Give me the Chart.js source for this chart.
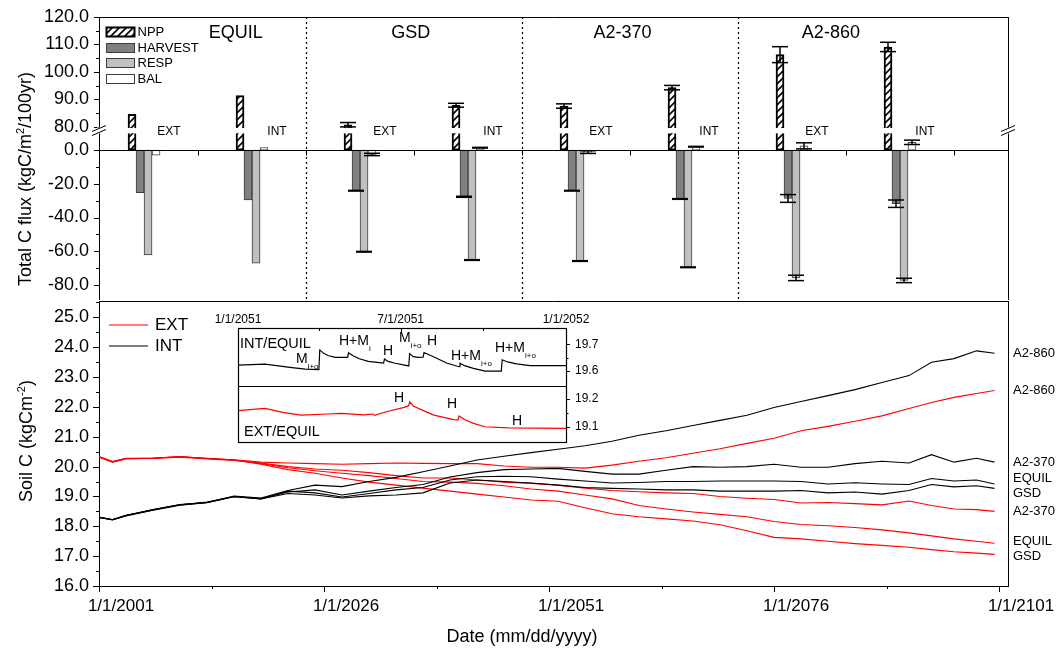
<!DOCTYPE html>
<html>
<head>
<meta charset="utf-8">
<title>Total C flux and soil C</title>
<script src="https://cdn.jsdelivr.net/npm/chart.js@4.4.1/dist/chart.umd.min.js"></script>
<style>
  html, body { margin: 0; background: #fff; }
  #page { position: relative; width: 1058px; height: 648px; overflow: hidden;
          font-family: "Liberation Sans", Arial, sans-serif; color: #000; }
  canvas { position: absolute; }
  #flux  { left: 0; top: 0; }
  #soil  { left: 0; top: 300px; }
  #inset { left: 200px; top: 305px; }
  .t { position: absolute; white-space: nowrap; line-height: 1; }
  .rot { transform: translate(-50%, -50%) rotate(-90deg); font-size: 18px; }
  .ann { font-size: 14px; }
  .ann sub { font-size: 8px; vertical-align: -6px; }
</style>
</head>
<body>
<div id="page">
  <canvas id="flux" width="1058" height="300"></canvas>
  <canvas id="soil" width="1058" height="348"></canvas>
  <canvas id="inset" width="410" height="145"></canvas>

  <div class="t rot" style="left:24px; top:179px">Total C flux (kgC/m<sup style="font-size:11px">2</sup>/100yr)</div>
  <div class="t rot" style="left:25px; top:441px">Soil C (kgCm<sup style="font-size:11px">-2</sup>)</div>
  <div class="t" style="left:522px; top:636px; transform:translate(-50%,-50%); font-size:18px">Date (mm/dd/yyyy)</div>

  <!-- inset annotations -->
  <div class="t ann" style="left:240px; top:336px; font-size:14.5px">INT/EQUIL</div>
  <div class="t ann" style="left:296px; top:351px">M<sub>i+o</sub></div>
  <div class="t ann" style="left:339px; top:333px">H+M<sub>i</sub></div>
  <div class="t ann" style="left:383px; top:343px">H</div>
  <div class="t ann" style="left:399px; top:330px">M<sub>i+o</sub></div>
  <div class="t ann" style="left:427px; top:333px">H</div>
  <div class="t ann" style="left:451px; top:348px">H+M<sub>i+o</sub></div>
  <div class="t ann" style="left:495px; top:340px">H+M<sub>i+o</sub></div>
  <div class="t ann" style="left:394px; top:390px">H</div>
  <div class="t ann" style="left:447px; top:396px">H</div>
  <div class="t ann" style="left:512px; top:413px">H</div>
  <div class="t ann" style="left:244px; top:424px; font-size:14.5px">EXT/EQUIL</div>
</div>

<script>
// ── data: C flux bars (kgC/m2/100yr) ────────────────────────────────
const SCENARIOS = ['EQUIL', 'GSD', 'A2-370', 'A2-860'];
const GROUP_X   = [0.5, 1.5, 2.5, 3.5, 4.5, 5.5, 6.5, 7.5];
const GROUP_MGMT = ['EXT', 'INT', 'EXT', 'INT', 'EXT', 'INT', 'EXT', 'INT'];

const NPP         = [84.6, 91.4, 80.8, 87.9, 87.6, 94.3, 106.3, 109.1];
const NPP_ERR     = [null, null, 0.8, 0.7, 0.8, 0.8, 2.9, 1.7];
const HARVEST     = [-25.3, -29.6, -24.1, -27.7, -24.1, -29.0, -28.7, -31.8];
const HARVEST_ERR = [null, null, 0.2, 0.3, 0.2, 0.2, 2.3, 2.2];
const RESP        = [-62.2, -67.1, -60.3, -65.2, -65.8, -69.5, -75.8, -77.3];
const RESP_ERR    = [null, null, 0.2, 0.2, 0.2, 0.2, 1.6, 1.3];
const BAL         = [-3.0, 1.4, -2.6, 1.4, -1.2, 2.0, 2.5, 4.6];
const BAL_ERR     = [null, null, 0.7, 0.2, 0.8, 0.2, 1.8, 1.3];

const FLUX_HIGH_TICKS = [80, 90, 100, 110, 120];
const FLUX_LOW_TICKS  = [0, -20, -40, -60, -80];

// ── data: soil C (kgC/m2) ───────────────────────────────────────────
const YEARS = [2001, 2002.5, 2004, 2007, 2010, 2013, 2016, 2019, 2022, 2025, 2028, 2031,
               2034, 2037, 2040, 2043, 2046, 2049, 2052, 2055, 2058, 2061, 2064, 2067,
               2070, 2073, 2076, 2079, 2082, 2085, 2088, 2091, 2093.5, 2096, 2098.5, 2100.5];

const INT_A2_860 = [18.30, 18.22, 18.36, 18.56, 18.73, 18.80, 19.01, 18.95, 19.20, 19.38, 19.33, 19.50,
                    19.64, 19.83, 20.02, 20.22, 20.35, 20.47, 20.58, 20.70, 20.85, 21.05, 21.20, 21.38,
                    21.55, 21.72, 21.98, 22.18, 22.38, 22.58, 22.82, 23.05, 23.50, 23.62, 23.88, 23.80];
const INT_A2_370 = [18.30, 18.23, 18.37, 18.55, 18.72, 18.81, 19.00, 18.93, 19.15, 19.22, 19.05, 19.18,
                    19.30, 19.40, 19.65, 19.80, 19.90, 19.92, 19.94, 19.84, 19.75, 19.75, 19.88, 20.00,
                    19.98, 20.00, 20.08, 19.98, 19.98, 20.10, 20.18, 20.12, 20.40, 20.15, 20.28, 20.15];
const INT_EQUIL  = [18.30, 18.21, 18.35, 18.54, 18.71, 18.79, 18.99, 18.92, 19.18, 19.12, 18.98, 19.10,
                    19.22, 19.30, 19.55, 19.66, 19.68, 19.66, 19.58, 19.52, 19.45, 19.47, 19.50, 19.50,
                    19.52, 19.52, 19.52, 19.50, 19.42, 19.46, 19.42, 19.40, 19.60, 19.52, 19.55, 19.42];
const INT_GSD    = [18.31, 18.22, 18.36, 18.55, 18.72, 18.80, 19.00, 18.92, 19.10, 19.05, 18.95, 19.02,
                    19.05, 19.12, 19.45, 19.55, 19.50, 19.45, 19.38, 19.30, 19.27, 19.25, 19.22, 19.22,
                    19.18, 19.18, 19.18, 19.20, 19.12, 19.15, 19.08, 19.20, 19.40, 19.32, 19.36, 19.27];
const EXT_A2_860 = [20.33, 20.16, 20.27, 20.28, 20.34, 20.27, 20.23, 20.15, 20.12, 20.10, 20.08, 20.10,
                    20.12, 20.11, 20.10, 20.10, 20.02, 19.98, 19.98, 19.95, 20.05, 20.18, 20.30, 20.45,
                    20.60, 20.78, 20.95, 21.20, 21.35, 21.52, 21.70, 21.95, 22.15, 22.32, 22.45, 22.55];
const EXT_A2_370 = [20.33, 20.17, 20.28, 20.27, 20.32, 20.26, 20.21, 20.12, 20.00, 19.92, 19.88, 19.80,
                    19.70, 19.62, 19.62, 19.55, 19.48, 19.44, 19.38, 19.28, 19.20, 19.16, 19.12, 19.10,
                    19.00, 18.94, 18.90, 18.78, 18.80, 18.76, 18.72, 18.85, 18.70, 18.58, 18.56, 18.50];
const EXT_EQUIL  = [20.32, 20.15, 20.26, 20.28, 20.33, 20.28, 20.22, 20.10, 19.96, 19.86, 19.78, 19.70,
                    19.60, 19.50, 19.48, 19.44, 19.36, 19.25, 19.18, 19.05, 18.92, 18.70, 18.58, 18.48,
                    18.40, 18.32, 18.16, 18.06, 18.02, 17.96, 17.88, 17.78, 17.68, 17.58, 17.50, 17.43];
const EXT_GSD    = [20.34, 20.16, 20.27, 20.29, 20.33, 20.27, 20.22, 20.08, 19.90, 19.78, 19.62, 19.48,
                    19.38, 19.28, 19.18, 19.08, 18.98, 18.88, 18.84, 18.62, 18.42, 18.32, 18.25, 18.18,
                    18.05, 17.85, 17.63, 17.58, 17.50, 17.42, 17.36, 17.30, 17.22, 17.15, 17.10, 17.06];

const SOIL_TICKS = [16, 17, 18, 19, 20, 21, 22, 23, 24, 25];
const DATE_TICKS = [2001, 2026, 2051, 2076, 2101];

// ── data: inset, year 2051 (day of year) ────────────────────────────
const INSET_INT_DAY = [0, 30, 60, 75, 90, 91, 95, 100, 108, 122, 123, 128, 135, 145, 162, 163, 167, 175, 190,
                       191, 195, 200, 206, 207, 212, 220, 232, 246, 247, 252, 262, 275, 293, 294, 300, 310, 325, 365];
const INSET_INT     = [19.622, 19.626, 19.613, 19.607, 19.605, 19.679, 19.667, 19.658, 19.651, 19.651, 19.668,
                       19.657, 19.646, 19.636, 19.630, 19.645, 19.636, 19.629, 19.619, 19.665, 19.654, 19.651,
                       19.652, 19.669, 19.662, 19.650, 19.630, 19.616, 19.629, 19.620, 19.610, 19.600, 19.600,
                       19.642, 19.634, 19.627, 19.620, 19.620];
const INSET_EXT_DAY = [0, 30, 50, 70, 100, 115, 140, 150, 152, 165, 185, 190, 191, 195, 205, 218, 240, 245,
                       246, 252, 262, 275, 300, 365];
const INSET_EXT     = [19.158, 19.166, 19.152, 19.142, 19.146, 19.148, 19.143, 19.146, 19.141, 19.154, 19.170,
                       19.176, 19.190, 19.175, 19.160, 19.142, 19.126, 19.125, 19.139, 19.126, 19.112, 19.100,
                       19.096, 19.094];
const INSET_DAY_TICKS  = [0, 181, 365];
const INSET_DAY_LABELS = ['1/1/2051', '7/1/2051', '1/1/2052'];
const INSET_INT_TICKS  = [19.6, 19.7];
const INSET_EXT_TICKS  = [19.1, 19.2];

// ── shared bits ─────────────────────────────────────────────────────
const FONT = '"Liberation Sans", Arial, sans-serif';
Chart.defaults.font.family = FONT;
Chart.defaults.color = '#000';
Chart.defaults.animation = false;

const RED = '#ff0000';
const HARVEST_COLOR = '#808080';
const RESP_COLOR = '#c0c0c0';
const EDGE = '#3c3c3c';

const crisp = v => Math.round(v) + 0.5;
const mid = arr => arr.slice(1).map((v, i) => (v + arr[i]) / 2);

function seg(ctx, x1, y1, x2, y2) {
  ctx.beginPath();
  ctx.moveTo(x1, y1);
  ctx.lineTo(x2, y2);
  ctx.stroke();
}

// tick marks on one side of a scale
function marks(ctx, scale, values, len, side) {
  values.forEach(v => {
    const p = crisp(scale.getPixelForValue(v));
    if (side === 'left')   seg(ctx, scale.right - len, p, scale.right, p);
    if (side === 'right')  seg(ctx, scale.left, p, scale.left + len, p);
    if (side === 'bottom') seg(ctx, p, scale.top, p, scale.top + len);
    if (side === 'down')   seg(ctx, p, scale.bottom, p, scale.bottom + len);
  });
}

function fixedTicks(list) {
  return s => { s.ticks = list.map(v => ({ value: v })); };
}

function fitWidth(w) {
  return s => { s.width = w; s.paddingTop = 0; s.paddingBottom = 0; };
}

function fitHeight(h) {
  return s => { s.height = h; s.paddingLeft = 0; s.paddingRight = 0; };
}

function makeHatch(ctx) {
  const c = document.createElement('canvas');
  c.width = 7; c.height = 7;
  const g = c.getContext('2d');
  g.fillStyle = '#fff';
  g.fillRect(0, 0, 7, 7);
  g.strokeStyle = '#000';
  g.lineWidth = 1.6;
  g.beginPath();
  g.moveTo(-1, 8); g.lineTo(8, -1);
  g.moveTo(-1, 1); g.lineTo(1, -1);
  g.moveTo(6, 8); g.lineTo(8, 6);
  g.stroke();
  return ctx.createPattern(c, 'repeat');
}

// ── top panel: flux bars with a broken axis ─────────────────────────
const fluxCtx = document.getElementById('flux').getContext('2d');
const NPP_FILL = makeHatch(fluxCtx);
const BREAK_HIGH = 79.6;   // bottom of the upper NPP piece
const BREAK_LOW  = 10;     // top of the lower NPP piece

const fluxDecor = {
  id: 'fluxDecor',
  afterDatasetsDraw(chart) {
    const { ctx, chartArea: a, scales: { x, yLow, yHigh } } = chart;
    ctx.save();
    ctx.strokeStyle = '#000';
    ctx.lineWidth = 1;

    // zero line with ticks
    const y0 = crisp(yLow.getPixelForValue(0));
    seg(ctx, a.left, y0, a.right, y0);
    for (let k = 1; k <= 8; k++) {
      const px = crisp(x.getPixelForValue(k));
      seg(ctx, px, y0, px, y0 + 5);
    }

    // scenario dividers
    ctx.setLineDash([2, 3]);
    ctx.lineWidth = 1.2;
    for (let k = 1; k < SCENARIOS.length; k++) {
      const px = crisp(x.getPixelForValue((GROUP_X[2 * k - 1] + GROUP_X[2 * k]) / 2));
      seg(ctx, px, a.top, px, a.bottom);
    }
    ctx.setLineDash([]);
    ctx.lineWidth = 1;

    // frame
    seg(ctx, a.left, crisp(a.top), a.right, crisp(a.top));
    seg(ctx, crisp(a.right), a.top, crisp(a.right), a.bottom);

    // axis ticks
    marks(ctx, yHigh, FLUX_HIGH_TICKS, 5, 'left');
    marks(ctx, yHigh, mid(FLUX_HIGH_TICKS), 3, 'left');
    marks(ctx, yLow, FLUX_LOW_TICKS, 5, 'left');
    marks(ctx, yLow, mid(FLUX_LOW_TICKS), 3, 'left');

    // axis break marks
    const yb = yHigh.bottom;
    [a.left, a.right].forEach(bx => {
      ctx.fillStyle = '#fff';
      ctx.fillRect(bx - 2, yb - 3, 4, 6);
      seg(ctx, bx - 7, yb + 1, bx + 7, yb - 5);
      seg(ctx, bx - 7, yb + 5, bx + 7, yb - 1);
    });

    // error bars
    ctx.lineWidth = 1.5;
    chart.data.datasets.forEach((ds, i) => {
      if (!ds.errors) return;
      const meta = chart.getDatasetMeta(i);
      const scale = chart.scales[ds.yAxisID];
      meta.data.forEach((bar, j) => {
        const e = ds.errors[j];
        if (e == null) return;
        const raw = ds.data[j].y;
        const v = Array.isArray(raw) ? raw[1] : raw;
        const yA = scale.getPixelForValue(v + e);
        const yB = scale.getPixelForValue(v - e);
        seg(ctx, bar.x, yA, bar.x, yB);
        seg(ctx, bar.x - 8, yA, bar.x + 8, yA);
        seg(ctx, bar.x - 8, yB, bar.x + 8, yB);
      });
    });

    // scenario titles and EXT / INT tags
    ctx.fillStyle = '#000';
    ctx.textAlign = 'center';
    ctx.textBaseline = 'middle';
    ctx.font = '18px ' + FONT;
    const TITLE_AT = [1.35, 2.97, 4.93, 6.86];
    SCENARIOS.forEach((s, k) => ctx.fillText(s, x.getPixelForValue(TITLE_AT[k]), a.top + 16));
    ctx.font = '12px ' + FONT;
    GROUP_MGMT.forEach((m, i) => ctx.fillText(m, x.getPixelForValue(GROUP_X[i]) + 25, y0 - 19));

    // legend
    const items = [
      { text: 'NPP',     fill: NPP_FILL,      stroke: '#000', lw: 2 },
      { text: 'HARVEST', fill: HARVEST_COLOR, stroke: EDGE,   lw: 1 },
      { text: 'RESP',    fill: RESP_COLOR,    stroke: EDGE,   lw: 1 },
      { text: 'BAL',     fill: '#fff',        stroke: EDGE,   lw: 1 }
    ];
    ctx.textAlign = 'left';
    ctx.font = '13px ' + FONT;
    items.forEach((it, k) => {
      const bx = a.left + 7.5, by = Math.round(a.top + 10 + k * 15.7) + 0.5;
      ctx.fillStyle = it.fill;
      ctx.fillRect(bx, by, 28, 9);
      ctx.strokeStyle = it.stroke;
      ctx.lineWidth = it.lw;
      ctx.strokeRect(bx, by, 28, 9);
      ctx.fillStyle = '#000';
      ctx.fillText(it.text, bx + 31, by + 5);
    });
    ctx.restore();
  }
};

const barPts = vals => GROUP_X.map((x, i) => ({ x, y: vals[i] }));

const fluxAxis = (stackWeight, min, max, ticks) => ({
  type: 'linear', position: 'left', stack: 'flux', stackWeight, min, max,
  afterBuildTicks: fixedTicks(ticks), afterFit: fitWidth(99),
  ticks: { font: { size: 18 }, padding: 10, autoSkip: false, callback: v => v.toFixed(1) },
  grid: { display: false, drawTicks: false },
  border: { color: '#000', width: 1 }
});

new Chart(fluxCtx, {
  type: 'bar',
  data: {
    datasets: [
      { label: 'NPP', data: GROUP_X.map((x, i) => ({ x, y: [BREAK_HIGH, NPP[i]] })),
        yAxisID: 'yHigh', stack: 'npp', backgroundColor: NPP_FILL, borderColor: '#000',
        borderWidth: 2, borderSkipped: 'bottom', errors: NPP_ERR },
      { label: 'NPP (below break)', data: GROUP_X.map(x => ({ x, y: [0, BREAK_LOW] })),
        yAxisID: 'yLow', stack: 'npp', backgroundColor: NPP_FILL, borderColor: '#000',
        borderWidth: 2, borderSkipped: 'top' },
      { label: 'HARVEST', data: barPts(HARVEST), yAxisID: 'yLow', stack: 'harvest',
        backgroundColor: HARVEST_COLOR, borderColor: EDGE, borderWidth: 1, borderSkipped: false,
        errors: HARVEST_ERR },
      { label: 'RESP', data: barPts(RESP), yAxisID: 'yLow', stack: 'resp',
        backgroundColor: RESP_COLOR, borderColor: EDGE, borderWidth: 1, borderSkipped: false,
        errors: RESP_ERR },
      { label: 'BAL', data: barPts(BAL), yAxisID: 'yLow', stack: 'bal',
        backgroundColor: '#fff', borderColor: EDGE, borderWidth: 1, borderSkipped: false,
        errors: BAL_ERR }
    ]
  },
  options: {
    responsive: false,
    events: [],
    barThickness: 8,
    layout: { padding: { top: 17, right: 50, bottom: 0, left: 0 } },
    plugins: { legend: { display: false }, tooltip: { enabled: false } },
    scales: {
      x: { type: 'linear', min: 0.083, max: 8.5, offset: false, display: false,
           afterBuildTicks: fixedTicks([1, 2, 3, 4, 5, 6, 7, 8]) },
      yLow: fluxAxis(169.5, -88.9, 11.6, FLUX_LOW_TICKS),
      yHigh: fluxAxis(113.5, 78.7, 120, FLUX_HIGH_TICKS)
    }
  },
  plugins: [fluxDecor]
});

// ── bottom panel: soil C time series ────────────────────────────────
const SERIES = [
  { name: 'A2-860', mgmt: 'INT', values: INT_A2_860 },
  { name: 'A2-860', mgmt: 'EXT', values: EXT_A2_860 },
  { name: 'A2-370', mgmt: 'INT', values: INT_A2_370 },
  { name: 'EQUIL',  mgmt: 'INT', values: INT_EQUIL },
  { name: 'GSD',    mgmt: 'INT', values: INT_GSD },
  { name: 'A2-370', mgmt: 'EXT', values: EXT_A2_370 },
  { name: 'EQUIL',  mgmt: 'EXT', values: EXT_EQUIL },
  { name: 'GSD',    mgmt: 'EXT', values: EXT_GSD }
];

const soilDecor = {
  id: 'soilDecor',
  afterDraw(chart) {
    const { ctx, chartArea: a, scales: { x, y } } = chart;
    ctx.save();
    ctx.strokeStyle = '#000';
    ctx.lineWidth = 1;
    seg(ctx, a.left, crisp(a.top), a.right, crisp(a.top));
    seg(ctx, crisp(a.right), a.top, crisp(a.right), a.bottom);

    marks(ctx, y, SOIL_TICKS, 6, 'left');
    marks(ctx, y, SOIL_TICKS.map(v => v + 0.5), 3, 'left');
    marks(ctx, x, DATE_TICKS, 6, 'bottom');
    marks(ctx, x, mid(DATE_TICKS), 3, 'bottom');

    // legend
    ctx.font = '17px ' + FONT;
    ctx.textBaseline = 'middle';
    ctx.textAlign = 'left';
    [['EXT', RED], ['INT', '#000']].forEach(([t, c], k) => {
      const ly = a.top + 24 + k * 21;
      ctx.strokeStyle = c;
      ctx.lineWidth = 1.2;
      seg(ctx, a.left + 10, ly, a.left + 49, ly);
      ctx.fillStyle = '#000';
      ctx.fillText(t, a.left + 56, ly);
    });

    // end-of-line scenario names, nudged apart where they collide
    const tags = SERIES.map(s => ({ text: s.name, y: y.getPixelForValue(s.values[s.values.length - 1]) }))
      .sort((p, q) => p.y - q.y);
    for (let pass = 0; pass < 30; pass++) {
      for (let i = 1; i < tags.length; i++) {
        const d = 15 - (tags[i].y - tags[i - 1].y);
        if (d > 0) { tags[i - 1].y -= d / 2; tags[i].y += d / 2; }
      }
    }
    ctx.font = '13px ' + FONT;
    tags.forEach(t => ctx.fillText(t.text, a.right + 5, t.y));
    ctx.restore();
  }
};

new Chart(document.getElementById('soil'), {
  type: 'line',
  data: {
    datasets: SERIES.map(s => ({
      label: s.mgmt + ' ' + s.name,
      data: YEARS.map((yr, i) => ({ x: yr, y: s.values[i] })),
      borderColor: s.mgmt === 'EXT' ? RED : '#000',
      borderWidth: 1.1,
      pointRadius: 0,
      tension: 0
    }))
  },
  options: {
    responsive: false,
    events: [],
    layout: { padding: { top: 1, right: 50, bottom: 0, left: 0 } },
    plugins: { legend: { display: false }, tooltip: { enabled: false } },
    scales: {
      x: {
        type: 'linear', min: 2001, max: 2102,
        afterBuildTicks: fixedTicks(DATE_TICKS), afterFit: fitHeight(62),
        ticks: { font: { size: 17 }, padding: 10, labelOffset: 22, maxRotation: 0, autoSkip: false,
                 callback: v => '1/1/' + v },
        grid: { display: false, drawTicks: false },
        border: { color: '#000', width: 1 }
      },
      y: {
        type: 'linear', min: 16, max: 25.55,
        afterBuildTicks: fixedTicks(SOIL_TICKS), afterFit: fitWidth(99),
        ticks: { font: { size: 18 }, padding: 10, autoSkip: false, callback: v => v.toFixed(1) },
        grid: { display: false, drawTicks: false },
        border: { color: '#000', width: 1 }
      }
    }
  },
  plugins: [soilDecor]
});

// ── inset: one year of soil C, INT above EXT ────────────────────────
const insetDecor = {
  id: 'insetDecor',
  beforeDraw(chart) {
    const { ctx, chartArea: a } = chart;
    ctx.save();
    ctx.fillStyle = '#fff';
    ctx.fillRect(a.left, a.top, a.width, a.height);
    ctx.restore();
  },
  afterDraw(chart) {
    const { ctx, chartArea: a, scales: { x, yI, yE } } = chart;
    ctx.save();
    ctx.strokeStyle = '#000';
    ctx.lineWidth = 1.2;
    ctx.strokeRect(crisp(a.left), crisp(a.top), Math.round(a.width), Math.round(a.height));
    seg(ctx, a.left, crisp(yI.bottom), a.right, crisp(yI.bottom));
    ctx.lineWidth = 1;
    // top axis ticks point inward
    marks(ctx, x, INSET_DAY_TICKS, 4, 'down');
    marks(ctx, x, mid(INSET_DAY_TICKS), 3, 'down');
    marks(ctx, yI, INSET_INT_TICKS, 4, 'right');
    marks(ctx, yI, mid(INSET_INT_TICKS), 2.5, 'right');
    marks(ctx, yE, INSET_EXT_TICKS, 4, 'right');
    marks(ctx, yE, mid(INSET_EXT_TICKS), 2.5, 'right');
    ctx.restore();
  }
};

const insetY = (range, ticks, weight) => ({
  type: 'linear', position: 'right', stack: 'inset', stackWeight: weight,
  min: range[0], max: range[1],
  afterBuildTicks: fixedTicks(ticks), afterFit: fitWidth(44),
  ticks: { font: { size: 12 }, padding: 9, autoSkip: false, callback: v => v.toFixed(1) },
  grid: { display: false, drawTicks: false },
  border: { color: '#000', width: 1 }
});

new Chart(document.getElementById('inset'), {
  type: 'line',
  data: {
    datasets: [
      { label: 'INT/EQUIL', yAxisID: 'yI', borderColor: '#000', borderWidth: 1.2, pointRadius: 0, tension: 0,
        data: INSET_INT_DAY.map((d, i) => ({ x: d, y: INSET_INT[i] })) },
      { label: 'EXT/EQUIL', yAxisID: 'yE', borderColor: RED, borderWidth: 1.2, pointRadius: 0, tension: 0,
        data: INSET_EXT_DAY.map((d, i) => ({ x: d, y: INSET_EXT[i] })) }
    ]
  },
  options: {
    responsive: false,
    events: [],
    layout: { padding: { top: 0, right: 0, bottom: 8, left: 38 } },
    plugins: { legend: { display: false }, tooltip: { enabled: false } },
    scales: {
      x: {
        type: 'linear', position: 'top', min: 0, max: 365,
        afterBuildTicks: fixedTicks(INSET_DAY_TICKS), afterFit: fitHeight(23),
        ticks: { font: { size: 12 }, padding: 1, maxRotation: 0, autoSkip: false,
                 callback: v => INSET_DAY_LABELS[INSET_DAY_TICKS.indexOf(v)] },
        grid: { display: false, drawTicks: false },
        border: { color: '#000', width: 1 }
      },
      yI: insetY([19.544, 19.761], INSET_INT_TICKS, 58),
      yE: insetY([19.045, 19.247], INSET_EXT_TICKS, 56)
    }
  },
  plugins: [insetDecor]
});
</script>
</body>
</html>
